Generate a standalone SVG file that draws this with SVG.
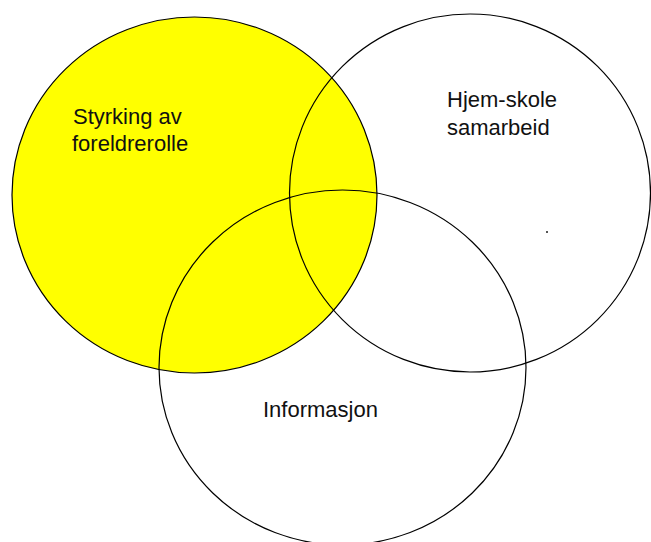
<svg xmlns="http://www.w3.org/2000/svg" width="651" height="542" viewBox="0 0 651 542">
<style>
.c{stroke:#000;stroke-width:1.2;}
.t{font-family:"Liberation Sans",Arial,sans-serif;font-size:22px;fill:#111;}
</style>
<rect x="0" y="0" width="651" height="542" fill="#fff"/>
<g id="node-styrking">
<ellipse class="c" cx="194.5" cy="195" rx="182.5" ry="178" fill="#ffff00"/>
</g>
<g id="node-hjem-skole">
<ellipse class="c" cx="470" cy="193" rx="180.5" ry="179" fill="none"/>
</g>
<g id="node-informasjon">
<ellipse class="c" cx="342.5" cy="367.5" rx="183.5" ry="177.5" fill="none"/>
</g>
<g id="labels">
<text class="t" x="73" y="124">Styrking av</text>
<text class="t" x="72" y="151">foreldrerolle</text>
<text class="t" x="447" y="107">Hjem-skole</text>
<text class="t" x="447" y="135">samarbeid</text>
<text class="t" x="263" y="417">Informasjon</text>
</g>
<rect x="546" y="231" width="2" height="2" fill="#555"/>
</svg>
